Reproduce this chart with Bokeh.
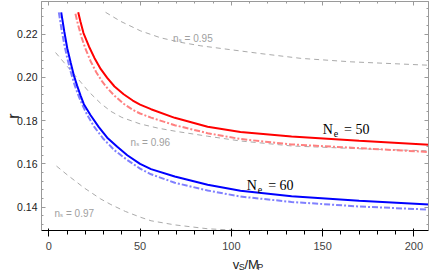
from bokeh.plotting import figure
from bokeh.models import Range1d, LinearAxis, Label, FixedTicker
from bokeh.layouts import column
from bokeh.core.properties import value
from bokeh.embed import file_html
from bokeh.resources import INLINE

# ---------------- data ----------------
# N_e = 50, solid red
ne50_x = [16.1, 17.4, 19, 22, 25, 28.4, 32, 36, 41, 46, 50, 56, 69, 87, 105, 133, 170, 210]
ne50_r = [0.2301, 0.2256, 0.2205, 0.2143, 0.2090, 0.2039, 0.1998, 0.1958, 0.1922, 0.1893,
          0.1874, 0.1853, 0.1813, 0.1772, 0.1748, 0.1727, 0.1707, 0.1688]
# N_e = 50, dash-dot light red
ne50b_x = [14.6, 16, 18, 20, 22.9, 26, 29, 32, 36, 41, 46, 50, 56, 69, 87, 105, 133, 170, 210]
ne50b_r = [0.2294, 0.2244, 0.2184, 0.2134, 0.2075, 0.2024, 0.1984, 0.1951, 0.1915, 0.1878,
           0.1850, 0.1833, 0.1814, 0.1779, 0.1742, 0.1715, 0.1690, 0.1673, 0.1654]
# N_e = 60, solid blue
ne60_x = [6.8, 8.5, 10.1, 12, 13.7, 15.5, 17.4, 19.2, 22.9, 27.4, 32, 37.5, 43, 50, 56, 69,
          87, 105, 133, 170, 210]
ne60_r = [0.2301, 0.2211, 0.2135, 0.2068, 0.2010, 0.1962, 0.1916, 0.1876, 0.1825, 0.1770,
          0.1721, 0.1679, 0.1640, 0.1600, 0.1576, 0.1542, 0.1504, 0.1476, 0.1450, 0.1430, 0.1412]
# N_e = 60, dash-dot light blue
ne60b_x = [5.5, 7, 8.5, 10, 12, 14, 16, 18, 21, 25, 30, 36, 43, 50, 56, 69, 87, 105, 133, 170, 210]
ne60b_r = [0.2301, 0.2220, 0.2152, 0.2093, 0.2026, 0.1969, 0.1921, 0.1880, 0.1827, 0.1770,
           0.1715, 0.1663, 0.1618, 0.1578, 0.1552, 0.1513, 0.1477, 0.1449, 0.1424, 0.1403, 0.1388]
# n_s contours (gray dashed)
ns95_x = [31.1, 39.4, 50.3, 61.3, 72.3, 83.3, 99.7, 116.2, 138.1, 165.6, 209]
ns95_r = [0.2301, 0.2259, 0.2215, 0.2183, 0.2162, 0.2146, 0.2128, 0.2110, 0.2088, 0.2072, 0.2056]
ns96_x = [3.7, 10, 16, 22, 28.4, 34, 40, 50, 60, 70, 87, 105, 133, 170, 210]
ns96_r = [0.2115, 0.2052, 0.1993, 0.1933, 0.1880, 0.1843, 0.1815, 0.1785, 0.1765, 0.1750,
          0.1728, 0.1706, 0.1683, 0.1670, 0.1660]
ns97_x = [4.2, 10, 19.2, 28.4, 34, 42, 50, 56, 69, 87, 105, 120]
ns97_r = [0.1590, 0.1550, 0.1490, 0.1438, 0.1412, 0.1380, 0.1354, 0.1337, 0.1318, 0.1300,
          0.1292, 0.1288]

x_ticks = [0, 50, 100, 150, 200]
x_tick_labels = ["0", "50", "100", "150", "200"]
y_ticks = [0.14, 0.16, 0.18, 0.20, 0.22]
y_tick_labels = ["0.14", "0.16", "0.18", "0.20", "0.22"]

ne_labels = ["50", "60"]
ne_label_x = [150.1, 108.5]
ne_label_r = [0.1760, 0.1502]
ns_labels = ["0.95", "0.96", "0.97"]
ns_label_x = [68.1, 44.8, 3.1]
ns_label_r = [0.2178, 0.1701, 0.1372]

y_title = "r"
x_title_parts = ["v", "S", "/M", "P"]   # v_S / M_P (2nd and 4th are subscripts)

# ---------------- styling ----------------
FRAME = "#9a9a9a"
GRAY = "#a0a0a0"
SANS = "Liberation Sans"
SERIF = "Liberation Serif"
TXT = "#222222"

W, H_MAIN, H_XT = 431, 252, 23

# ---------------- main figure ----------------
p = figure(width=W, height=H_MAIN, output_backend="svg", toolbar_location=None, title=None,
           x_range=Range1d(-4.0, 208.0), y_range=Range1d(0.1292, 0.2351),
           min_border_left=41, min_border_right=3, min_border_top=1, min_border_bottom=14)
p.background_fill_color = "white"
p.border_fill_color = "white"
p.outline_line_color = FRAME
p.outline_line_width = 1
p.xgrid.visible = False
p.ygrid.visible = False

x_minor = [v for v in range(0, 211, 10)]
y_minor = [round(0.132 + 0.004 * i, 3) for i in range(26)]
xt = FixedTicker(ticks=x_ticks, minor_ticks=x_minor)
yt = FixedTicker(ticks=y_ticks, minor_ticks=y_minor)

top = LinearAxis()
right = LinearAxis()
p.add_layout(top, "above")
p.add_layout(right, "right")
for ax in [p.xaxis[0], top]:
    ax.ticker = xt
for ax in [p.yaxis[0], right]:
    ax.ticker = yt
for ax in [p.xaxis[0], p.yaxis[0], top, right]:
    ax.axis_line_color = FRAME
    ax.major_tick_line_color = FRAME
    ax.minor_tick_line_color = FRAME
    ax.major_tick_in = 4
    ax.major_tick_out = 0
    ax.minor_tick_in = 2
    ax.minor_tick_out = 0
    ax.major_label_text_font = SANS
    ax.major_label_text_font_size = "10.5px"
    ax.major_label_text_color = TXT
p.xaxis[0].major_label_overrides = {t: l for t, l in zip(x_ticks, x_tick_labels)}
p.yaxis[0].major_label_overrides = {t: l for t, l in zip(y_ticks, y_tick_labels)}
p.xaxis[0].major_label_standoff = 2
p.yaxis[0].major_label_standoff = 4
for ax in [top, right]:
    ax.major_label_text_font_size = "0px"
    ax.major_label_standoff = 0
    ax.major_label_text_color = None

# y title as real axis label
p.yaxis[0].axis_label = y_title
p.yaxis[0].axis_label_text_font = SANS
p.yaxis[0].axis_label_text_font_size = "16px"
p.yaxis[0].axis_label_text_font_style = "normal"
p.yaxis[0].axis_label_text_color = TXT
p.yaxis[0].axis_label_standoff = -8

# contours
for xs, rs in [(ns95_x, ns95_r), (ns96_x, ns96_r), (ns97_x, ns97_r)]:
    p.line(xs, rs, line_color=GRAY, line_width=0.9, line_dash="5 4")
# dash-dot light curves
p.line(ne50b_x, ne50b_r, line_color="#ff8080", line_width=2, line_dash="6 2 2 2")
p.line(ne60b_x, ne60b_r, line_color="#8080ff", line_width=2, line_dash="6 2 2 2")
# solid curves
p.line(ne50_x, ne50_r, line_color="#ff0000", line_width=2)
p.line(ne60_x, ne60_r, line_color="#0000ff", line_width=2)

# N_e labels
for txt, lx, ly in zip(ne_labels, ne_label_x, ne_label_r):
    p.add_layout(Label(x=lx, y=ly, text="N", text_font=SERIF, text_font_size="14px",
                       text_color="black", text_baseline="alphabetic", text_align="left"))
    p.add_layout(Label(x=lx, y=ly, x_offset=11.0, y_offset=-4.5, text="e", text_font=SERIF,
                       text_font_size="10px", text_color="black", text_baseline="alphabetic",
                       text_align="left"))
    p.add_layout(Label(x=lx, y=ly, x_offset=21.3, text="= " + txt, text_font=SERIF,
                       text_font_size="14px", text_color="black", text_baseline="alphabetic",
                       text_align="left"))

# n_s labels
for txt, lx, ly in zip(ns_labels, ns_label_x, ns_label_r):
    p.add_layout(Label(x=lx, y=ly, text="n", text_font=SANS, text_font_size="10px",
                       text_color=GRAY, text_baseline="alphabetic", text_align="left"))
    p.add_layout(Label(x=lx, y=ly, x_offset=5.6, y_offset=-1.5, text="s", text_font=SANS,
                       text_font_size="6px", text_color=GRAY, text_baseline="alphabetic",
                       text_align="left"))
    p.add_layout(Label(x=lx, y=ly, x_offset=11.5, text="= " + txt, text_font=SANS,
                       text_font_size="10px", text_color=GRAY, text_baseline="alphabetic",
                       text_align="left"))

# ---------------- x title strip: v_S/M_P ----------------
xt_fig = figure(width=W, height=H_XT, output_backend="svg", toolbar_location=None, title=None,
                x_range=Range1d(0, W), y_range=Range1d(0, H_XT),
                x_axis_location=None, y_axis_location=None, min_border=0)
xt_fig.outline_line_color = None
xt_fig.xgrid.visible = False
xt_fig.ygrid.visible = False
xt_fig.background_fill_color = "white"
xt_fig.border_fill_color = "white"

xs_parts = [213.0, 219.7, 226.0, 240.4]
ys_parts = [11.0, 8.5, 11.0, 8.5]
fs_parts = ["13px", "9px", "13px", "9px"]
for t, xx, yy, fs in zip(x_title_parts, xs_parts, ys_parts, fs_parts):
    xt_fig.text(x=[xx], y=[yy], text=[t], text_font=value(SANS), text_font_size=fs,
                text_color=TXT, text_align="left", text_baseline="alphabetic")

layout = column(p, xt_fig)
open("out.html", "w").write(file_html(layout, INLINE))
